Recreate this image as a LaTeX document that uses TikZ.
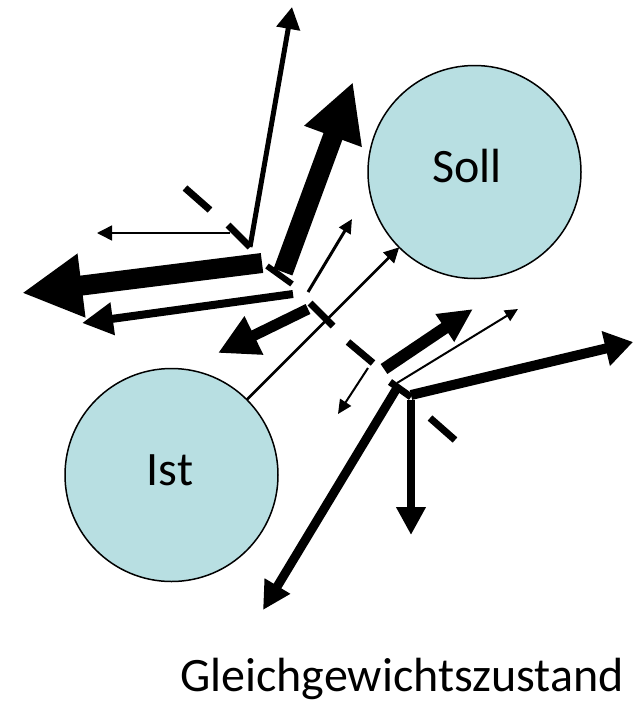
\documentclass[tikz,border=0pt]{standalone}
\usepackage{fontspec}
\setmainfont{Carlito}
\usetikzlibrary{arrows.meta}
\definecolor{circfill}{RGB}{184,223,226}
\tikzset{
  circ/.style={circle, draw=black, line width=1.5pt, fill=circfill, minimum size=213pt, inner sep=0pt, outer sep=0pt},
  lbl/.style={anchor=base, inner sep=0pt, font=\fontsize{48}{56}\selectfont},
  tick/.style={line width=7pt},
  arr/.style n args={3}{line width=#1pt, -{Triangle[length=#2pt, width=#3pt]}},
}
\begin{document}
\begin{tikzpicture}[x=1pt, y=-1pt]
\useasboundingbox (0,0) rectangle (634,704);
% circles
\node[circ] (ist) at (171.5,475) {};
\node[circ] (soll) at (474.5,172) {};
\node[lbl] (istT) at (170,485) {Ist};
\node[lbl] (sollT) at (467,182) {Soll};
\node[lbl] (title) at (402,691) {Gleichgewichtszustand};
% coordinates
\coordinate (b1) at (310,303); \coordinate (b2) at (333,326);
\coordinate (c1) at (308,309); \coordinate (c2) at (218,353);
\coordinate (d1) at (308,292); \coordinate (d2) at (352,219);
\coordinate (e1) at (283,272); \coordinate (e2) at (353,82);
\coordinate (e3) at (267,266); \coordinate (e4) at (292,284);
\coordinate (f1) at (228,225); \coordinate (f2) at (250,247); \coordinate (f3) at (292,7);
\coordinate (g1) at (185,188); \coordinate (g2) at (210,210);
\coordinate (h1) at (230,233); \coordinate (h2) at (97,233);
\coordinate (i1) at (262,263); \coordinate (i2) at (22,293);
\coordinate (j1) at (293,294); \coordinate (j2) at (82,323);
\coordinate (k1) at (348,342); \coordinate (k2) at (373,363);
\coordinate (l1) at (368,368); \coordinate (l2) at (338,414);
\coordinate (m1) at (384,369); \coordinate (m2) at (473,309);
\coordinate (n1) at (397,383); \coordinate (n2) at (518,309);
\coordinate (o1) at (390,382); \coordinate (o2) at (411,397);
\coordinate (p1) at (397,388); \coordinate (p2) at (263,610);
\coordinate (q1) at (411,395); \coordinate (q2) at (633,342);
\coordinate (r1) at (411,400); \coordinate (r2) at (411,535);
\coordinate (s1) at (430,418); \coordinate (s2) at (455,440);
% connector between circles
\draw[arr={2.5}{15}{15}] (ist) -- (soll);
% upper cluster
\draw[tick] (b1) -- (b2);
\draw[arr={11}{40}{40}] (c1) -- (c2);
\draw[arr={3}{14}{13}] (d1) -- (d2);
\draw[arr={20}{58}{57}] (e1) -- (e2);
\draw[line width=6pt] (e3) -- (e4);
\draw[tick] (f1) -- (f2);
\draw[arr={5}{22}{23}] (f2) -- (f3);
\draw[tick] (g1) -- (g2);
\draw[arr={1.5}{15}{15}] (h1) -- (h2);
\draw[arr={20}{60}{60}] (i1) -- (i2);
\draw[arr={8}{31}{31}] (j1) -- (j2);
% lower cluster
\draw[tick] (k1) -- (k2);
\draw[arr={2}{14}{13}] (l1) -- (l2);
\draw[arr={12}{34}{31}] (m1) -- (m2);
\draw[arr={2}{13}{12}] (n1) -- (n2);
\draw[tick] (o1) -- (o2);
\draw[arr={9}{28}{28}] (p1) -- (p2);
\draw[arr={10}{28}{34}] (q1) -- (q2);
\draw[arr={8}{28}{28}] (r1) -- (r2);
\draw[tick] (s1) -- (s2);
\end{tikzpicture}
\end{document}
